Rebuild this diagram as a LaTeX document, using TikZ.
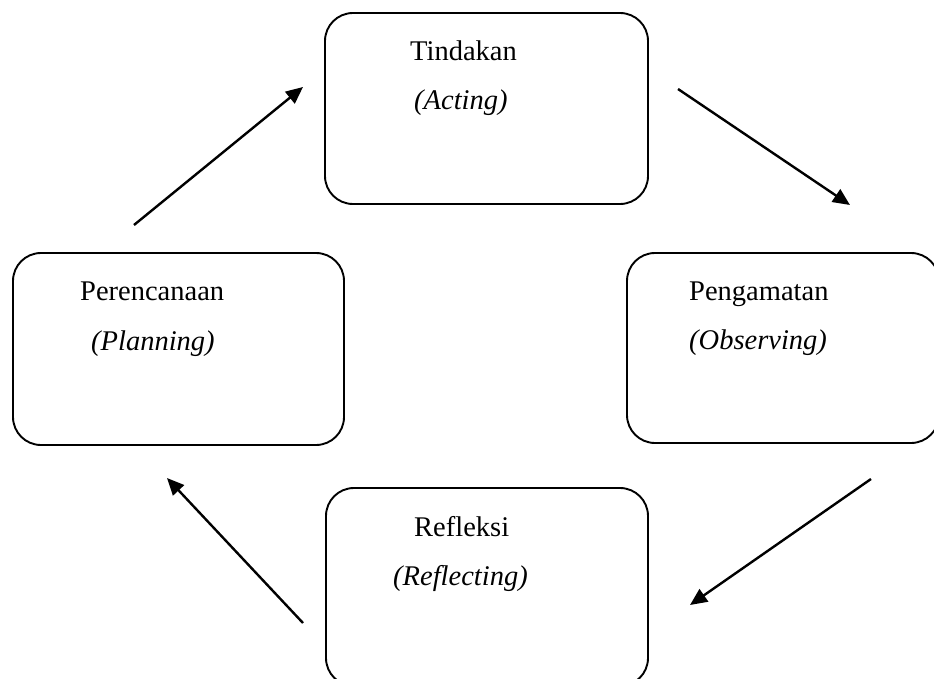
\documentclass[tikz,border=0pt]{standalone}
\usepackage{fontspec}
\setmainfont{Liberation Serif}
\usetikzlibrary{arrows.meta}
\begin{document}
\begin{tikzpicture}[x=1pt,y=-1pt,
  box/.style={draw=black,line width=1.9pt,rounded corners=28pt,inner sep=0pt},
  lbl/.style={anchor=base west,inner sep=0pt,font=\fontsize{28.5}{34}\selectfont},
  flow/.style={line width=2.4pt,-{Triangle[length=17pt,width=15pt]}}]
\clip (0,0) rectangle (934,679);
\useasboundingbox (0,0) rectangle (934,679);
% boxes
\node[box,minimum width=323pt,minimum height=191pt] (act) at (486.5,108.5) {};
\node[box,minimum width=331pt,minimum height=192pt] (plan) at (178.5,349) {};
\node[box,minimum width=312pt,minimum height=190pt] (obs) at (783,348) {};
\node[box,minimum width=322pt,minimum height=198pt] (ref) at (487,587) {};
% labels
\node[lbl] (actA) at (410,61) {Tindakan};
\node[lbl] (actB) at (414,110) {\itshape (Acting)};
\node[lbl] (planA) at (80,300) {Perencanaan};
\node[lbl] (planB) at (91,350) {\itshape (Planning)};
\node[lbl] (obsA) at (689,300) {Pengamatan};
\node[lbl] (obsB) at (689,349) {\itshape (Observing)};
\node[lbl] (refA) at (414,536) {Refleksi};
\node[lbl] (refB) at (393,585) {\itshape (Reflecting)};
% arrow end points
\coordinate (a1s) at (134,225);
\coordinate (a1e) at (303,87);
\coordinate (a2s) at (678,89);
\coordinate (a2e) at (850,205);
\coordinate (a3s) at (871,479);
\coordinate (a3e) at (690,605);
\coordinate (a4s) at (303,623);
\coordinate (a4e) at (167,478);
\draw[flow] (a1s) -- (a1e);
\draw[flow] (a2s) -- (a2e);
\draw[flow] (a3s) -- (a3e);
\draw[flow] (a4s) -- (a4e);
\end{tikzpicture}
\end{document}
